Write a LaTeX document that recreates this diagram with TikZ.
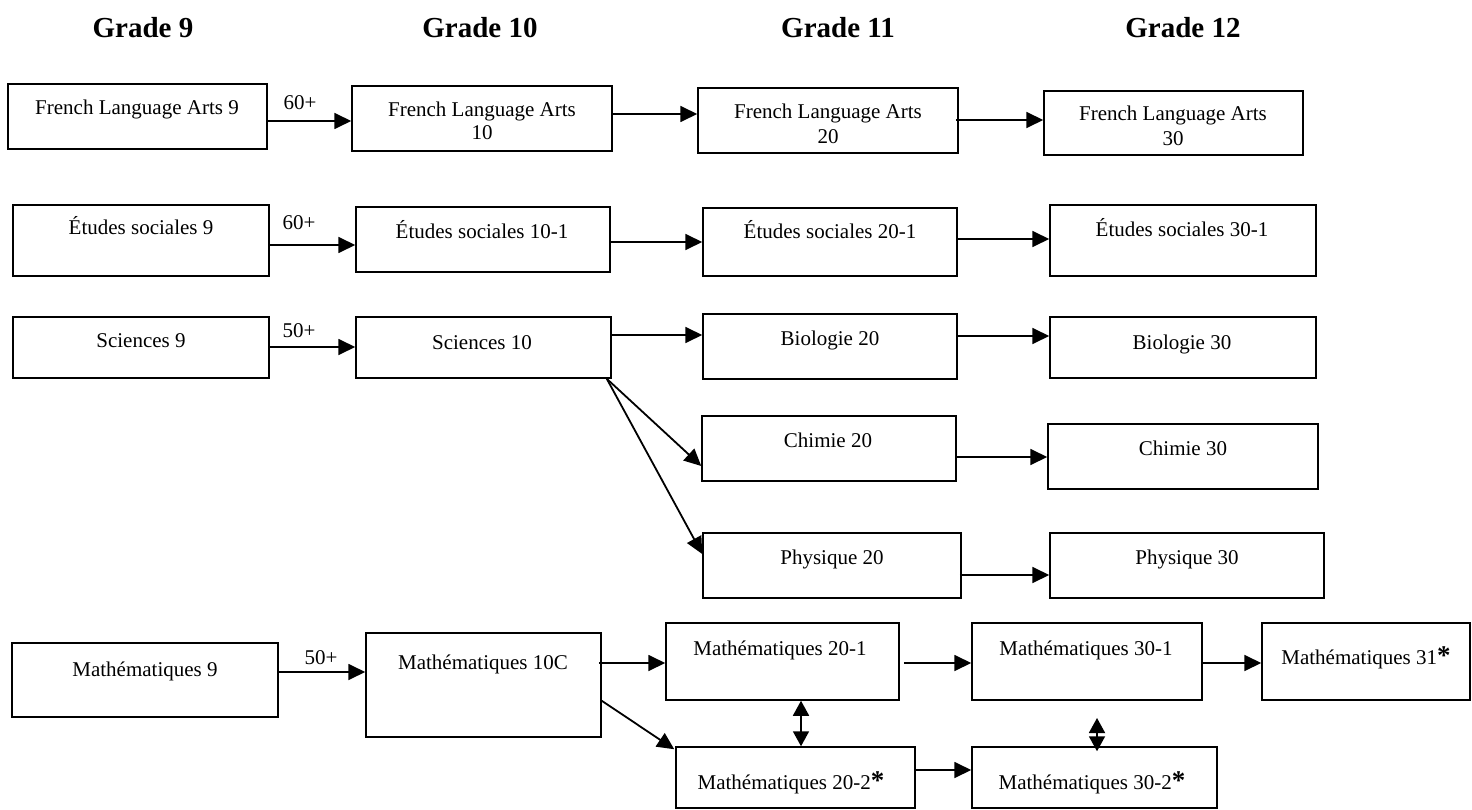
\documentclass[tikz,border=0pt]{standalone}
\usepackage{fontspec}
\setmainfont{Liberation Serif}
\usetikzlibrary{arrows.meta,fit}

\tikzset{
  box/.style={draw, line width=1.5pt, inner sep=0pt},
  lbl/.style={font=\fontsize{21}{24}\selectfont, inner sep=0pt, anchor=base},
  hdr/.style={font=\fontsize{29}{32}\selectfont\bfseries, inner sep=0pt, anchor=base},
  arr/.style={line width=1.8pt, -{Triangle[length=17pt,width=16pt]}},
  dbl/.style={line width=1.8pt, {Triangle[length=15pt,width=16pt]}-{Triangle[length=15pt,width=16pt]}},
}
\newcommand\course[5]{\node[box, fit={(#2,#3)(#4,#5)}] (#1) {};}
\newcommand\bigast{{\fontsize{27}{27}\selectfont\bfseries *}}

\begin{document}
\begin{tikzpicture}[x=1pt,y=-1pt]
\useasboundingbox (0,0) rectangle (1472,810);

% column headings
\node[hdr] (h9)  at (143,38)  {Grade 9};
\node[hdr] (h10) at (480,38)  {Grade 10};
\node[hdr] (h11) at (838,38)  {Grade 11};
\node[hdr] (h12) at (1183,38) {Grade 12};

% course boxes
\course{fla9}{8}{84}{267}{149}
\course{fla10}{352}{86}{612}{151}
\course{fla20}{698}{88}{958}{153}
\course{fla30}{1044}{91}{1303}{155}

\course{es9}{13}{205}{269}{276}
\course{es10}{356}{207}{610}{272}
\course{es20}{703}{208}{957}{276}
\course{es30}{1050}{205}{1316}{276}

\course{sci9}{13}{317}{269}{378}
\course{sci10}{356}{317}{611}{378}
\course{bio20}{703}{314}{957}{379}
\course{bio30}{1050}{317}{1316}{378}

\course{chi20}{702}{416}{956}{481}
\course{chi30}{1048}{424}{1318}{489}

\course{phy20}{703}{533}{961}{598}
\course{phy30}{1050}{533}{1324}{598}

\course{m9}{12}{643}{278}{717}
\course{m10}{366}{633}{601}{737}
\course{m201}{666}{623}{899}{700}
\course{m301}{972}{623}{1202}{700}
\course{m31}{1262}{623}{1470}{700}
\course{m202}{676}{747}{915}{808}
\course{m302}{972}{747}{1217}{808}

% course titles
\node[lbl] (fla9-t)  at (137,115)  {French Language Arts 9};
\node[lbl] (fla10-t) at (482,117)  {French Language Arts};
\node[lbl] (fla10-n) at (482,140)  {10};
\node[lbl] (fla20-t) at (828,119)  {French Language Arts};
\node[lbl] (fla20-n) at (828,144)  {20};
\node[lbl] (fla30-t) at (1173,121) {French Language Arts};
\node[lbl] (fla30-n) at (1173,146) {30};

\node[lbl] (es9-t)  at (141,235)  {Études sociales 9};
\node[lbl] (es10-t) at (482,239)  {Études sociales 10-1};
\node[lbl] (es20-t) at (830,239)  {Études sociales 20-1};
\node[lbl] (es30-t) at (1182,237) {Études sociales 30-1};

\node[lbl] (sci9-t)  at (141,347)  {Sciences 9};
\node[lbl] (sci10-t) at (482,349)  {Sciences 10};
\node[lbl] (bio20-t) at (830,345)  {Biologie 20};
\node[lbl] (bio30-t) at (1182,349) {Biologie 30};

\node[lbl] (chi20-t) at (828,447)  {Chimie 20};
\node[lbl] (chi30-t) at (1183,455) {Chimie 30};

\node[lbl] (phy20-t) at (832,564)  {Physique 20};
\node[lbl] (phy30-t) at (1187,564) {Physique 30};

\node[lbl] (m9-t)   at (145,676)  {Mathématiques 9};
\node[lbl] (m10-t)  at (483,669)  {Mathématiques 10C};
\node[lbl] (m201-t) at (780,655)  {Mathématiques 20-1};
\node[lbl] (m301-t) at (1086,655) {Mathématiques 30-1};
\node[lbl] (m31-t)  at (1366,664) {Mathématiques 31\bigast};
\node[lbl] (m202-t) at (791,789)  {Mathématiques 20-2\bigast};
\node[lbl] (m302-t) at (1092,789) {Mathématiques 30-2\bigast};

% minimum marks
\node[lbl] (g1) at (300,110) {60+};
\node[lbl] (g2) at (299,230) {60+};
\node[lbl] (g3) at (299,337) {50+};
\node[lbl] (g4) at (321,664) {50+};

% progressions
\draw[arr] (fla9.east |- 0,121)  -- (fla10.west |- 0,121);
\draw[arr] (fla10.east |- 0,114) -- (fla20.west |- 0,114);
\draw[arr] ([xshift=-3pt]fla20.east |- 0,120) -- (fla30.west |- 0,120);

\draw[arr] (es9.east |- 0,245)  -- (es10.west |- 0,245);
\draw[arr] (es10.east |- 0,242) -- (es20.west |- 0,242);
\draw[arr] (es20.east |- 0,239) -- (es30.west |- 0,239);

\draw[arr] (sci9.east |- 0,347)  -- (sci10.west |- 0,347);
\draw[arr] (sci10.east |- 0,335) -- (bio20.west |- 0,335);
\draw[arr] (bio20.east |- 0,336) -- (bio30.west |- 0,336);
\draw[arr] ([xshift=-5pt]sci10.south east) -- (chi20.west |- 0,466);
\draw[arr] ([xshift=-5pt]sci10.south east) -- (phy20.west |- 0,554);

\draw[arr] (chi20.east |- 0,457) -- (chi30.west |- 0,457);
\draw[arr] ([xshift=-2pt]phy20.east |- 0,575) -- (phy30.west |- 0,575);

\draw[arr] (m9.east |- 0,672)   -- (m10.west |- 0,672);
\draw[arr] ([xshift=-3pt]m10.east |- 0,663)  -- (m201.west |- 0,663);
\draw[arr] ([xshift=4pt]m201.east |- 0,663) -- (m301.west |- 0,663);
\draw[arr] (m301.east |- 0,663) -- (m31.west |- 0,663);
\draw[arr] ([yshift=37pt]m10.south east) -- ([xshift=-1pt,yshift=-3pt]m202.north west);
\draw[arr] (m202.east |- 0,770) -- (m302.west |- 0,770);

\draw[dbl] (m201.south -| 801,0) -- (m202.north -| 801,0);
\coordinate (m30gap) at (1097,718);
\draw[dbl, shorten >=-5pt] (m30gap) -- (m302.north -| 1097,0);
\end{tikzpicture}
\end{document}
